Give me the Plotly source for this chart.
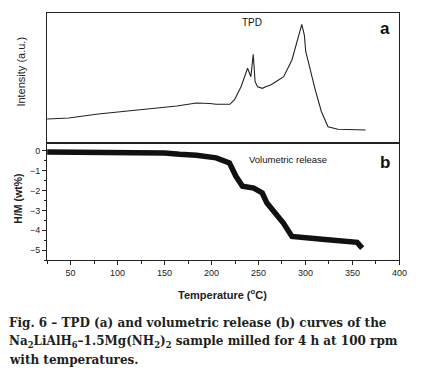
import plotly.graph_objects as go

# TPD curve (panel a): temperature (°C) and intensity (a.u.)
tpd_temp = [25, 48, 79.5, 111, 163, 184, 194.8, 198, 205, 219.5, 224.4, 231.4, 238.4, 241.9,
            244.4, 246.4, 249, 254.2, 257.6, 262.9, 268, 276.8, 285.6, 292.5, 296.1, 298.8,
            300.3, 303, 310, 317, 324, 334.5, 350, 364]
tpd_int = [24, 25, 29, 32, 37, 40, 40, 39.5, 38.7, 38.7, 43, 56.3, 74.7, 66.3,
           88.7, 61.3, 56.3, 54.7, 56.3, 58, 61, 66.3, 83, 106.3, 118.7, 108,
           91.3, 81.3, 54.7, 31.3, 16.3, 13.7, 13.3, 13]

# Volumetric release (panel b): temperature (°C) and H/M (wt%)
vol_temp = [25, 100, 150, 166, 184, 205, 219, 226, 233, 245, 254, 259, 268, 276.5,
            285.6, 299.6, 323.7, 355, 360.4]
vol_hm = [-0.05, -0.05, -0.1, -0.17, -0.22, -0.35, -0.6, -1.28, -1.78, -1.87, -2.12, -2.63,
          -3.13, -3.64, -4.31, -4.39, -4.48, -4.61, -4.9]

x_range = [25, 400]
x_ticks = [50, 100, 150, 200, 250, 300, 350, 400]
y_ticks = [0, -1, -2, -3, -4, -5]

W, H = 429, 376
def px_x(p): return p / W
def px_y(p): return 1 - p / H

fig = go.Figure()
fig.add_trace(go.Scatter(x=tpd_temp, y=tpd_int, mode="lines",
                         line=dict(color="#222", width=1.1), xaxis="x", yaxis="y",
                         showlegend=False))
fig.add_trace(go.Scatter(x=vol_temp, y=vol_hm, mode="lines",
                         line=dict(color="#111", width=5.5), xaxis="x2", yaxis="y2",
                         showlegend=False))

tickfont = dict(family="Liberation Sans, Arial", size=9, color="#222")
xdom = [px_x(48), px_x(407)]

fig.update_layout(
    width=W, height=H, margin=dict(l=0, r=0, t=0, b=0),
    paper_bgcolor="white", plot_bgcolor="white",
    xaxis=dict(domain=xdom, range=x_range, anchor="y", showticklabels=False, ticks="",
               showgrid=False, zeroline=False, showline=True, linecolor="#222",
               linewidth=1, mirror=True),
    yaxis=dict(domain=[px_y(143), px_y(13)], range=[0, 130], anchor="x", showticklabels=False,
               ticks="", showgrid=False, zeroline=False, showline=True, linecolor="#222",
               linewidth=1, mirror=True),
    xaxis2=dict(domain=xdom, range=x_range, anchor="y2", tickvals=x_ticks, ticks="outside",
                ticklen=4, tickcolor="#222", tickfont=tickfont,
                minor=dict(dtick=25, tick0=0, ticks="outside", ticklen=2.5, tickcolor="#222"),
                showgrid=False, zeroline=False, showline=True, linecolor="#222",
                linewidth=1, mirror=True),
    yaxis2=dict(domain=[px_y(260), px_y(143)], range=[-5.5, 0.4], anchor="x2",
                tickvals=y_ticks, ticks="outside", ticklen=4, tickcolor="#222",
                tickfont=tickfont,
                minor=dict(dtick=0.5, tick0=0, ticks="outside", ticklen=2.5, tickcolor="#222"),
                showgrid=False, zeroline=False, showline=True, linecolor="#222",
                linewidth=1, mirror=True),
)

sans = "Liberation Sans, Arial"
ann = [
    dict(text="TPD", x=257, y=22, size=10),
    dict(text="<b>a</b>", x=392, y=28, size=17),
    dict(text="Volumetric release", x=293, y=160, size=9.5),
    dict(text="<b>b</b>", x=392, y=162, size=17),
]
for a in ann:
    fig.add_annotation(text=a["text"], xref="paper", yref="paper", x=px_x(a["x"]),
                       y=px_y(a["y"]), showarrow=False, xanchor="center", yanchor="middle",
                       font=dict(family=sans, size=a["size"], color="#111"))

fig.add_annotation(text="Intensity (a.u.)", xref="paper", yref="paper", x=px_x(21),
                   y=px_y(72), textangle=-90, showarrow=False, xanchor="center",
                   yanchor="middle", font=dict(family=sans, size=11, color="#222"))
fig.add_annotation(text="<b>H/M (wt%)</b>", xref="paper", yref="paper", x=px_x(18),
                   y=px_y(199), textangle=-90, showarrow=False, xanchor="center",
                   yanchor="middle", font=dict(family=sans, size=10.5, color="#222"))
fig.add_annotation(text="<b>Temperature (<sup>o</sup>C)</b>", xref="paper", yref="paper",
                   x=px_x(226.5), y=px_y(294), showarrow=False, xanchor="center",
                   yanchor="middle", font=dict(family=sans, size=11, color="#222"))

caption_lines = [
    "<b>Fig. 6 – TPD (a) and volumetric release (b) curves of the</b>",
    "<b>Na<sub>2</sub>LiAlH<sub>6</sub>–1.5Mg(NH<sub>2</sub>)<sub>2</sub> sample milled for 4 h at 100 rpm</b>",
    "<b>with temperatures.</b>",
]
caption_y = [323, 342, 360]
for txt, yy in zip(caption_lines, caption_y):
    fig.add_annotation(text=txt, xref="paper", yref="paper", x=px_x(7), y=px_y(yy),
                       showarrow=False, xanchor="left", yanchor="middle", align="left",
                       font=dict(family="DejaVu Serif", size=12, color="#231f20"))

fig.write_html("out.html", config={"displayModeBar": False},
               post_script="document.body.style.margin='0';")
